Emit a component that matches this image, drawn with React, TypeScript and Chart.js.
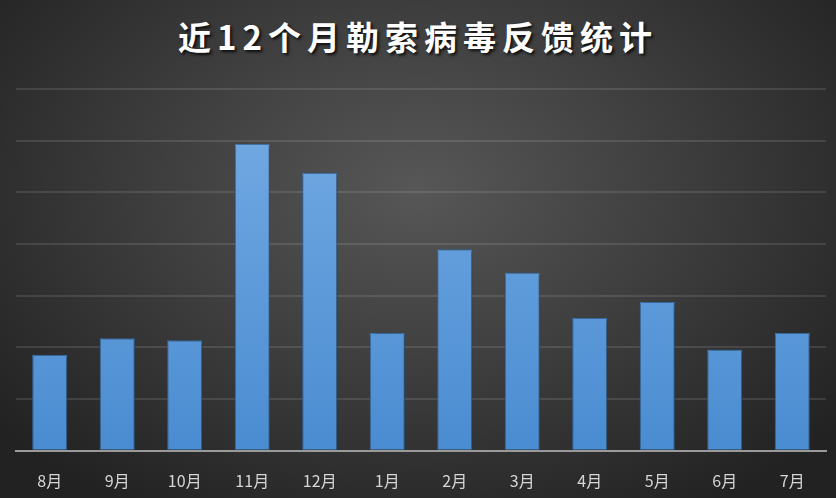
import React, { useEffect, useRef } from "react";
import { Chart, registerables } from "chart.js";

Chart.register(...registerables);

const title = "近12个月勒索病毒反馈统计";
const months = ["8月", "9月", "10月", "11月", "12月", "1月", "2月", "3月", "4月", "5月", "6月", "7月"];
const counts = [186, 218, 214, 594, 538, 228, 390, 345, 257, 288, 196, 228];
const yMax = 700;
const yStep = 100;

const barShadow = {
  id: "barShadow",
  beforeDatasetsDraw(chart: any) {
    const c = chart.ctx;
    c.save();
    c.shadowColor = "rgba(0,0,0,0.55)";
    c.shadowBlur = 6;
    c.shadowOffsetX = 1;
    c.shadowOffsetY = 1;
  },
  afterDatasetsDraw(chart: any) {
    chart.ctx.restore();
  },
};

export default function App() {
  const ref = useRef<HTMLCanvasElement | null>(null);

  useEffect(() => {
    if (!ref.current) return;
    const chart = new Chart(ref.current, {
      type: "bar",
      data: {
        labels: months,
        datasets: [
          {
            data: counts,
            backgroundColor: (ctx: any) => {
              const area = ctx.chart.chartArea;
              if (!area) return "#5b9bd9";
              const g = ctx.chart.ctx.createLinearGradient(0, area.top, 0, area.bottom);
              g.addColorStop(0, "#76ace4");
              g.addColorStop(1, "#4a8cd1");
              return g;
            },
            borderColor: "#3f7dbd",
            borderWidth: 1,
            barPercentage: 0.52,
            categoryPercentage: 1,
          },
        ],
      },
      options: {
        animation: false,
        responsive: false,
        maintainAspectRatio: false,
        layout: { padding: { top: 89, left: 16, right: 10, bottom: -14 } },
        plugins: {
          legend: { display: false },
          title: { display: false },
          tooltip: { enabled: false },
        },
        scales: {
          x: {
            grid: { display: false, drawTicks: false },
            border: { display: true, color: "#9a9a9a", width: 2 },
            ticks: {
              color: "#d6d6d6",
              padding: 21,
              font: { family: "'Noto Sans CJK SC', 'DejaVu Sans', sans-serif", size: 16 },
            },
          },
          y: {
            min: 0,
            max: yMax,
            display: true,
            ticks: { display: false, stepSize: yStep },
            grid: { color: "rgba(255,255,255,0.11)", lineWidth: 2, drawTicks: false },
            border: { display: false },
          },
        },
      },
      plugins: [barShadow],
    });
    return () => chart.destroy();
  }, []);

  return (
    <div
      style={{
        position: "absolute",
        left: 0,
        top: 0,
        width: 836,
        height: 498,
        overflow: "hidden",
        background:
          "radial-gradient(ellipse 65% 75% at 50% 38%, #575757 0%, #3d3d3d 50%, #222222 100%)",
      }}
    >
      <div
        style={{
          position: "absolute",
          left: 0,
          top: 12,
          width: 836,
          textAlign: "center",
          color: "#ffffff",
          fontFamily: "'Noto Sans CJK SC', sans-serif",
          fontWeight: 700,
          fontSize: 33,
          letterSpacing: 6,
          lineHeight: "48px",
          textShadow: "2px 2px 3px rgba(0,0,0,0.8)",
        }}
      >
        {title}
      </div>
      <canvas ref={ref} width={836} height={498} style={{ position: "absolute", left: 0, top: 0 }} />
    </div>
  );
}
